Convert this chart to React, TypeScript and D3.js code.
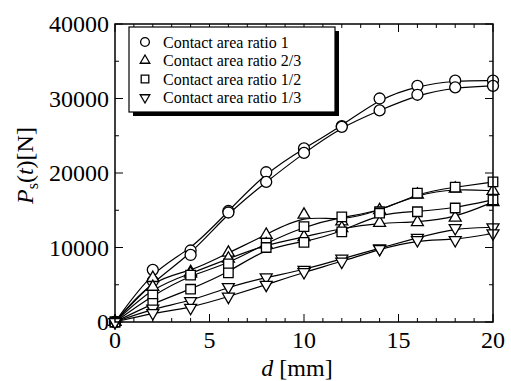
import React from "react";
import * as d3 from "d3";

// displacement d [mm]
const dValues = [0, 2, 4, 6, 8, 10, 12, 14, 16, 18, 20];

// P_s(t) [N], two tests for each contact area ratio
const ratio1TestA = [0, 7000, 9600, 14900, 20100, 23300, 26300, 30000, 31700, 32400, 32400];
const ratio1TestB = [0, 5500, 9000, 14700, 18800, 22700, 26200, 28400, 30500, 31500, 31700];
const ratio23TestA = [0, 5900, 6700, 9300, 11700, 14400, 13500, 15000, 17100, 17900, 17600];
const ratio23TestB = [0, 4700, 6500, 8500, 10400, 11400, 12600, 13300, 13400, 14000, 16100];
const ratio12TestA = [0, 3600, 6300, 7800, 10600, 12800, 14100, 14800, 17300, 18100, 18800];
const ratio12TestB = [0, 2500, 4400, 6600, 10000, 10700, 12100, 14600, 14800, 15300, 16400];
const ratio13TestA = [0, 1800, 2800, 4700, 6000, 7000, 8500, 9900, 11300, 12600, 12700];
const ratio13TestB = [0, 1200, 1900, 3400, 5000, 6700, 8100, 9800, 11000, 11000, 11900];

const legendLabels = [
  "Contact area ratio 1",
  "Contact area ratio 2/3",
  "Contact area ratio 1/2",
  "Contact area ratio 1/3",
];
const markerKinds = ["circle", "up", "square", "down"];

const xTicks = [0, 5, 10, 15, 20];
const yTicks = [0, 10000, 20000, 30000, 40000];

const series = [
  { kind: "circle", values: ratio1TestA },
  { kind: "circle", values: ratio1TestB },
  { kind: "up", values: ratio23TestA },
  { kind: "up", values: ratio23TestB },
  { kind: "square", values: ratio12TestA },
  { kind: "square", values: ratio12TestB },
  { kind: "down", values: ratio13TestA },
  { kind: "down", values: ratio13TestB },
];

const W = 511;
const H = 381;
const left = 115;
const right = 493;
const top = 24;
const bottom = 322;
const font = "Liberation Serif";

const x = d3.scaleLinear().domain([0, 20]).range([left, right]);
const y = d3.scaleLinear().domain([0, 40000]).range([bottom, top]);

// marker path for a given kind, scale factor s
const markerPath = (kind: string, s: number) => {
  if (kind === "circle") return d3.symbol(d3.symbolCircle, 95 * s * s)()!;
  if (kind === "square") return d3.symbol(d3.symbolSquare, 90 * s * s)()!;
  return d3.symbol(d3.symbolTriangle, 62 * s * s)()!;
};

const Marker = ({ kind, cx, cy, s = 1 }: { kind: string; cx: number; cy: number; s?: number }) => (
  <path
    d={markerPath(kind, s)}
    transform={`translate(${cx},${cy})${kind === "down" ? " rotate(180)" : ""}`}
    fill="white"
    stroke="black"
    strokeWidth={1.3}
  />
);

export default function App() {
  const line = d3
    .line<number>()
    .x((_, i) => x(dValues[i]))
    .y((v) => y(v))
    .curve(d3.curveBasis);

  const minorX = d3.range(0, 21, 1);
  const minorY = d3.range(0, 40001, 5000);

  return (
    <svg width={W} height={H} style={{ position: "absolute", left: 0, top: 0, background: "white" }}>
      {/* ticks, inward on all four sides */}
      {minorX.map((t) => {
        const len = t % 5 === 0 ? 8 : 4;
        return (
          <g key={"xt" + t} stroke="black" strokeWidth={1}>
            <line x1={x(t)} x2={x(t)} y1={bottom} y2={bottom - len} />
            <line x1={x(t)} x2={x(t)} y1={top} y2={top + len} />
          </g>
        );
      })}
      {minorY.map((t) => {
        const len = t % 10000 === 0 ? 8 : 4;
        return (
          <g key={"yt" + t} stroke="black" strokeWidth={1}>
            <line x1={left} x2={left + len} y1={y(t)} y2={y(t)} />
            <line x1={right} x2={right - len} y1={y(t)} y2={y(t)} />
          </g>
        );
      })}

      {/* fitted curves */}
      {series.map((s, i) => (
        <path key={"l" + i} d={line(s.values)!} fill="none" stroke="black" strokeWidth={1.2} />
      ))}
      {/* measured points */}
      {series.map((s, i) =>
        s.values.map((v, j) => <Marker key={`m${i}-${j}`} kind={s.kind} cx={x(dValues[j])} cy={y(v)} />)
      )}

      <rect x={left} y={top} width={right - left} height={bottom - top} fill="none" stroke="black" strokeWidth={1.5} />

      {/* tick labels */}
      {xTicks.map((t) => (
        <text key={"xl" + t} x={x(t)} y={bottom + 26} textAnchor="middle" fontFamily={font} fontSize={24}>
          {t}
        </text>
      ))}
      {yTicks.map((t) => (
        <text key={"yl" + t} x={left - 6} y={y(t) + 8} textAnchor="end" fontFamily={font} fontSize={24}>
          {t}
        </text>
      ))}

      {/* axis titles */}
      <text x={297} y={376} textAnchor="middle" fontFamily={font} fontSize={24}>
        <tspan fontStyle="italic">d</tspan> [mm]
      </text>
      <text transform="translate(33,204) rotate(-90)" fontFamily={font} fontSize={24}>
        <tspan fontStyle="italic">P</tspan>
        <tspan fontSize={16} dy={5}>s</tspan>
        <tspan dy={-5}>(</tspan>
        <tspan fontStyle="italic">t</tspan>
        <tspan>)[N]</tspan>
      </text>

      {/* legend with drop shadow */}
      <rect x={133} y={31} width={206} height={85} fill="black" />
      <rect x={129} y={27} width={206} height={85} fill="white" stroke="black" strokeWidth={1.2} />
      {legendLabels.map((lab, i) => (
        <g key={"lg" + i}>
          <Marker kind={markerKinds[i]} cx={145} cy={42 + i * 18.5} s={0.8} />
          <text x={163} y={47.5 + i * 18.5} fontFamily={font} fontSize={16}>
            {lab}
          </text>
        </g>
      ))}
    </svg>
  );
}
